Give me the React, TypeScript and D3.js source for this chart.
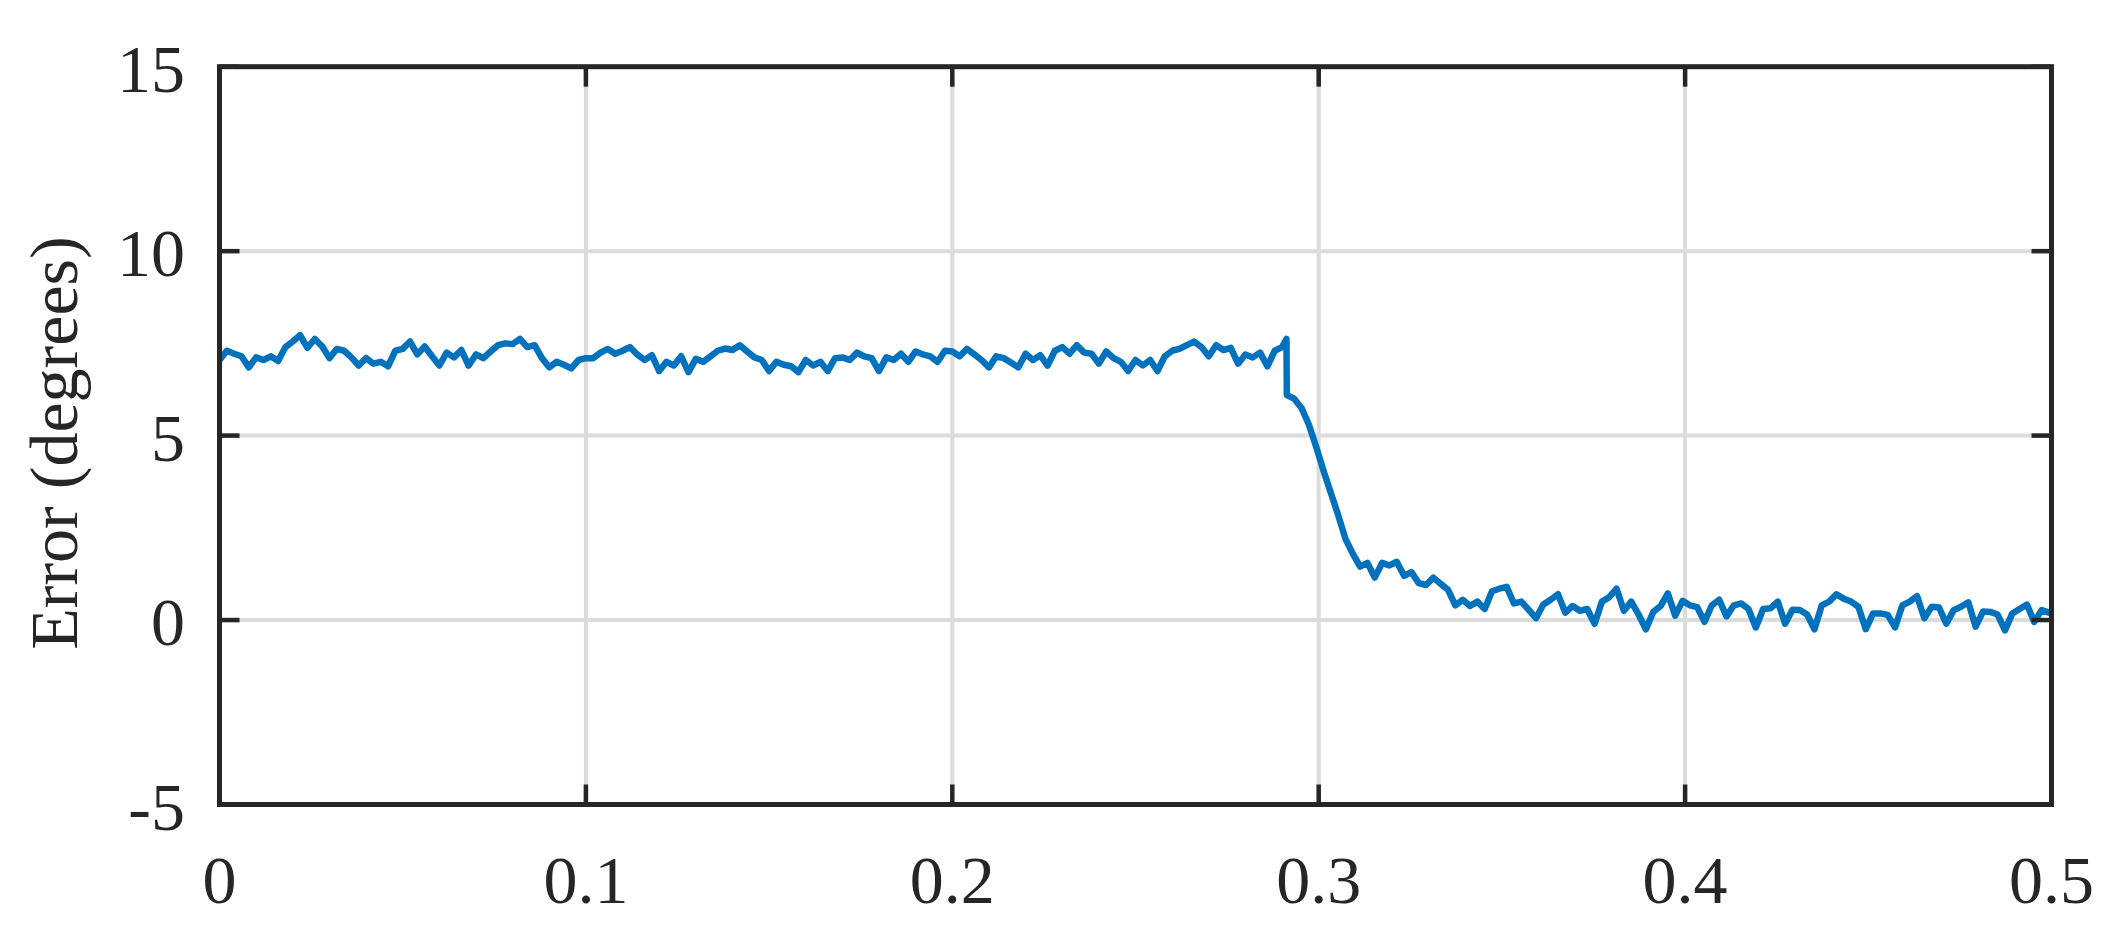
import React, { useEffect, useRef } from "react";
import * as d3 from "d3";

// tick values
const xTicks = [0, 0.1, 0.2, 0.3, 0.4, 0.5];
const yTicks = [-5, 0, 5, 10, 15];

// error samples every 2 ms before the step change (t = 0 .. 0.290)
const sampleStep = 0.002;
const beforeStep = [
  7.05, 7.3, 7.22, 7.15, 6.85, 7.12, 7.05, 7.15, 7.02, 7.4,
  7.55, 7.72, 7.38, 7.62, 7.42, 7.1, 7.35, 7.3, 7.12, 6.9,
  7.1, 6.95, 7.0, 6.88, 7.3, 7.35, 7.55, 7.2, 7.42, 7.15,
  6.9, 7.25, 7.12, 7.32, 6.9, 7.2, 7.1, 7.28, 7.45, 7.5,
  7.48, 7.62, 7.4, 7.45, 7.1, 6.85, 7.0, 6.92, 6.82, 7.05,
  7.1, 7.1, 7.25, 7.35, 7.22, 7.3, 7.4, 7.2, 7.05, 7.18,
  6.75, 7.0, 6.9, 7.15, 6.72, 7.08, 7.0, 7.15, 7.3, 7.36,
  7.32, 7.45, 7.28, 7.12, 7.05, 6.75, 7.0, 6.92, 6.88, 6.72,
  7.05, 6.9, 7.0, 6.75, 7.1, 7.12, 7.05, 7.25, 7.15, 7.1,
  6.75, 7.12, 7.05, 7.22, 7.0, 7.28, 7.2, 7.15, 7.0, 7.3,
  7.28, 7.15, 7.35, 7.2, 7.05, 6.85, 7.15, 7.1, 6.98, 6.85,
  7.22, 7.05, 7.18, 6.9, 7.3, 7.4, 7.22, 7.45, 7.25, 7.22,
  6.95, 7.28, 7.1, 7.0, 6.75, 7.05, 6.9, 7.05, 6.75, 7.15,
  7.3, 7.35, 7.45, 7.55, 7.4, 7.15, 7.45, 7.32, 7.38, 6.95,
  7.2, 7.12, 7.25, 6.88, 7.3, 7.4,
];

// the step change
const stepTime = 0.2913;
const stepPeak = 7.62;

// samples every 2 ms from the step change on
const afterStep = [
  6.1, 6.0, 5.75, 5.3, 4.7, 4.05, 3.45, 2.85, 2.2, 1.8,
  1.45, 1.55, 1.15, 1.55, 1.48, 1.58, 1.2, 1.3, 1.0, 0.95,
  1.15, 0.98, 0.82, 0.4, 0.55, 0.38, 0.5, 0.3, 0.78, 0.85,
  0.9, 0.45, 0.5, 0.28, 0.05, 0.42, 0.55, 0.7, 0.2, 0.38,
  0.25, 0.3, -0.1, 0.5, 0.62, 0.85, 0.25, 0.5, 0.15, -0.25,
  0.22, 0.38, 0.72, 0.12, 0.52, 0.4, 0.35, -0.05, 0.4, 0.55,
  0.1, 0.4, 0.45, 0.3, -0.2, 0.3, 0.32, 0.5, -0.1, 0.28,
  0.27, 0.15, -0.25, 0.4, 0.5, 0.7, 0.58, 0.5, 0.36, -0.25,
  0.18, 0.18, 0.14, -0.2, 0.4, 0.5, 0.65, 0.05, 0.36, 0.34,
  -0.1, 0.27, 0.36, 0.48, -0.18, 0.23, 0.22, 0.15, -0.28, 0.18,
  0.3, 0.42, -0.05, 0.27, 0.2,
];
const endTime = 0.5;
const endValue = 0.18;

const App = () => {
  const width = 2120;
  const height = 946;
  const marginLeft = 219.5;
  const marginRight = 68.5;
  const marginTop = 66.7;
  const marginBottom = 141.5;
  const svgRef = useRef(null);

  useEffect(() => {
    if (!svgRef.current) return;
    const svg = d3.select(svgRef.current);
    svg.selectAll("*").remove();

    const data = [
      ...beforeStep.map((v, i) => ({ t: i * sampleStep, v })),
      { t: stepTime - 0.0001, v: stepPeak },
      ...afterStep.map((v, i) => ({ t: stepTime + i * sampleStep, v })),
      { t: endTime, v: endValue },
    ];

    const x = d3
      .scaleLinear()
      .domain([0, 0.5])
      .range([marginLeft, width - marginRight]);
    const y = d3
      .scaleLinear()
      .domain([-5, 15])
      .range([height - marginBottom, marginTop]);

    const font = "'Liberation Serif', 'Times New Roman', serif";
    const dark = "#262626";
    const x0 = x(0), x1 = x(0.5), y0 = y(-5), y1 = y(15);

    // grid
    svg
      .append("g")
      .selectAll("line")
      .data(xTicks.slice(1, -1))
      .join("line")
      .attr("x1", (d) => x(d))
      .attr("x2", (d) => x(d))
      .attr("y1", y1)
      .attr("y2", y0)
      .attr("stroke", "#dcdcdc")
      .attr("stroke-width", 4);
    svg
      .append("g")
      .selectAll("line")
      .data(yTicks.slice(1, -1))
      .join("line")
      .attr("x1", x0)
      .attr("x2", x1)
      .attr("y1", (d) => y(d))
      .attr("y2", (d) => y(d))
      .attr("stroke", "#dcdcdc")
      .attr("stroke-width", 4);

    // signal
    const line = d3
      .line()
      .x((d) => x(d.t))
      .y((d) => y(d.v));
    svg
      .append("path")
      .datum(data)
      .attr("fill", "none")
      .attr("stroke", "#0072BD")
      .attr("stroke-width", 6.5)
      .attr("stroke-linejoin", "round")
      .attr("d", line);

    // ticks on all four sides, pointing in
    const tickLen = 20;
    const ticks = svg.append("g").attr("stroke", dark).attr("stroke-width", 4.5);
    xTicks.forEach((d) => {
      ticks.append("line").attr("x1", x(d)).attr("x2", x(d)).attr("y1", y0).attr("y2", y0 - tickLen);
      ticks.append("line").attr("x1", x(d)).attr("x2", x(d)).attr("y1", y1).attr("y2", y1 + tickLen);
    });
    yTicks.forEach((d) => {
      ticks.append("line").attr("x1", x0).attr("x2", x0 + tickLen).attr("y1", y(d)).attr("y2", y(d));
      ticks.append("line").attr("x1", x1).attr("x2", x1 - tickLen).attr("y1", y(d)).attr("y2", y(d));
    });

    // frame
    svg
      .append("rect")
      .attr("x", x0)
      .attr("y", y1)
      .attr("width", x1 - x0)
      .attr("height", y0 - y1)
      .attr("fill", "none")
      .attr("stroke", dark)
      .attr("stroke-width", 5);

    // tick labels
    svg
      .append("g")
      .selectAll("text")
      .data(xTicks)
      .join("text")
      .attr("x", (d) => x(d))
      .attr("y", y0 + 98.5)
      .attr("text-anchor", "middle")
      .attr("font-family", font)
      .attr("font-size", 68)
      .attr("fill", dark)
      .text((d) => String(d));
    svg
      .append("g")
      .selectAll("text")
      .data(yTicks)
      .join("text")
      .attr("x", 185)
      .attr("y", (d) => y(d) + 25)
      .attr("text-anchor", "end")
      .attr("font-family", font)
      .attr("font-size", 68)
      .attr("fill", dark)
      .text((d) => String(d));

    // axis title
    svg
      .append("text")
      .attr("transform", "translate(77,443) rotate(-90)")
      .attr("text-anchor", "middle")
      .attr("font-family", font)
      .attr("font-size", 68)
      .attr("fill", dark)
      .text("Error (degrees)");
  }, []);

  return (
    <div>
      <style>{`body{margin:0}`}</style>
      <svg ref={svgRef} width={width} height={height} style={{ display: "block", background: "#fff" }}></svg>
    </div>
  );
};

export default App;
